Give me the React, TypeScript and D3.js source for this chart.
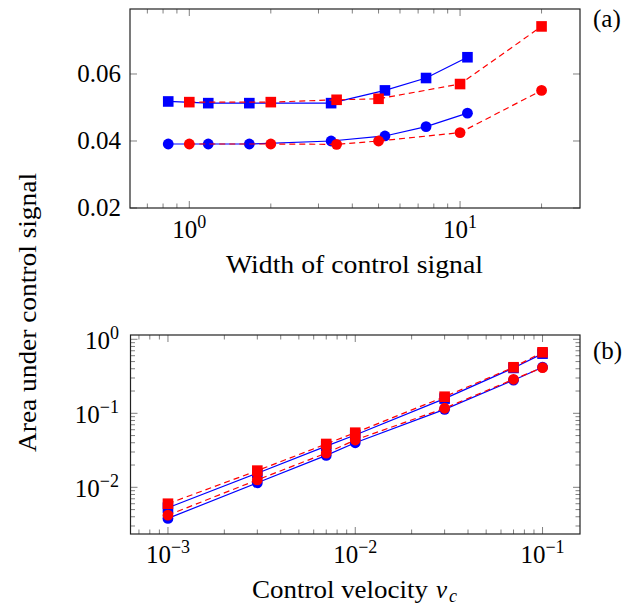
import React from "react";
import * as d3 from "d3";

// ---------- data ----------
const topBlueX = [0.836, 1.175, 1.666, 3.34, 5.28, 7.49, 10.65];
const topBlueSquares = [0.0518, 0.0513, 0.0513, 0.0513, 0.0551, 0.0588, 0.065];
const topBlueCircles = [0.0391, 0.0391, 0.0391, 0.04, 0.0415, 0.0443, 0.0483];
const topRedX = [1, 2, 3.5, 5, 10, 20];
const topRedSquares = [0.0516, 0.0516, 0.0523, 0.0526, 0.057, 0.0742];
const topRedCircles = [0.0391, 0.0391, 0.039, 0.04, 0.0425, 0.0551];
const topYTicks = [0.02, 0.04, 0.06];
const topXMajor = [1, 10];

const botX = [0.001, 0.003, 0.007, 0.01, 0.03, 0.07, 0.1];
const botBlueSquares = [0.0053, 0.0155, 0.036, 0.051, 0.158, 0.41, 0.64];
const botBlueCircles = [0.0038, 0.0115, 0.027, 0.04, 0.113, 0.28, 0.42];
const botRedSquares = [0.006, 0.0168, 0.0385, 0.0547, 0.1675, 0.419, 0.667];
const botRedCircles = [0.0042, 0.0126, 0.029, 0.0436, 0.117, 0.288, 0.414];
const botXMajorExp = [-3, -2, -1];
const botYMajorExp = [0, -1, -2];

const BLUE = "#0000ff";
const RED = "#ff0000";
const FONT = "Liberation Serif, Times New Roman, Tinos, DejaVu Serif, Noto Serif, serif";
const FS = 25;
const textStyle: React.CSSProperties = { fontFamily: FONT, fontSize: FS };

function logMinors(lo: number, hi: number) {
  const out: number[] = [];
  for (let e = Math.floor(Math.log10(lo)) - 1; e <= Math.ceil(Math.log10(hi)); e++) {
    for (let m = 2; m <= 9; m++) {
      const v = m * Math.pow(10, e);
      if (v > lo && v < hi) out.push(v);
    }
  }
  return out;
}

function Pow({ x, y, exp, anchor }: { x: number; y: number; exp: string; anchor: "middle" | "end" }) {
  return (
    <text x={x} y={y} style={textStyle} textAnchor={anchor} fill="#000">
      10
      <tspan dy={-10} style={{ fontSize: 18 }}>
        {exp}
      </tspan>
    </text>
  );
}

function Series({
  xs, ys, x, y, color, dashed, shape,
}: {
  xs: number[]; ys: number[]; x: any; y: any; color: string; dashed: boolean; shape: "sq" | "ci";
}) {
  const pts: [number, number][] = xs.map((v, i) => [x(v), y(ys[i])]);
  const line = d3.line()(pts) || "";
  return (
    <g>
      <path d={line} fill="none" stroke={color} strokeWidth={1.2} strokeDasharray={dashed ? "6,4" : undefined} />
      {pts.map(([px, py], i) =>
        shape === "sq" ? (
          <rect key={i} x={px - 5.3} y={py - 5.3} width={10.6} height={10.6} fill={color} />
        ) : (
          <circle key={i} cx={px} cy={py} r={5.4} fill={color} />
        )
      )}
    </g>
  );
}

export default function App() {
  // top panel
  const tL = 130, tR = 580, tT = 9, tB = 208;
  const tx = d3.scaleLog().domain([Math.pow(10, -0.219), Math.pow(10, 1.443)]).range([tL, tR]);
  const ty = d3.scaleLinear().domain([0.02, 0.0794]).range([tB, tT]);
  const txMinor = logMinors(tx.domain()[0], tx.domain()[1]);

  // bottom panel
  const bL = 130.5, bR = 580, bT = 335, bB = 534;
  const bx = d3.scaleLog().domain([Math.pow(10, -3.2), Math.pow(10, -0.8)]).range([bL, bR]);
  const by = d3.scaleLog().domain([Math.pow(10, -2.631), Math.pow(10, 0.058)]).range([bB, bT]);
  const bxMinor = logMinors(bx.domain()[0], bx.domain()[1]);
  const byMinor = logMinors(by.domain()[0], by.domain()[1]);

  const MAJ = 7, MIN = 4.5;
  const tickColor = "#808080";

  return (
    <svg width={624} height={610} style={{ position: "absolute", left: 0, top: 0 }}>
      <rect width={624} height={610} fill="#fff" />

      {/* ---------- top panel ---------- */}
      <g>
        {topXMajor.map((v) => (
          <g key={"tmx" + v} stroke={tickColor} strokeWidth={1}>
            <line x1={tx(v)} x2={tx(v)} y1={tB} y2={tB - MAJ} />
            <line x1={tx(v)} x2={tx(v)} y1={tT} y2={tT + MAJ} />
          </g>
        ))}
        {txMinor.map((v) => (
          <g key={"tmn" + v} stroke={tickColor} strokeWidth={1}>
            <line x1={tx(v)} x2={tx(v)} y1={tB} y2={tB - MIN} />
            <line x1={tx(v)} x2={tx(v)} y1={tT} y2={tT + MIN} />
          </g>
        ))}
        {topYTicks.map((v) => (
          <g key={"ty" + v} stroke={tickColor} strokeWidth={1}>
            <line x1={tL} x2={tL + MAJ} y1={ty(v)} y2={ty(v)} />
            <line x1={tR} x2={tR - MAJ} y1={ty(v)} y2={ty(v)} />
          </g>
        ))}
        {topYTicks.map((v) => (
          <text key={"tyl" + v} x={121} y={ty(v) + 8} style={textStyle} textAnchor="end">
            {v.toFixed(2)}
          </text>
        ))}
        {topXMajor.map((v, i) => (
          <Pow key={"txl" + v} x={tx(v)} y={238} exp={String(i)} anchor="middle" />
        ))}
        <text x={226} y={273} style={textStyle} textLength={257} lengthAdjust="spacingAndGlyphs">
          Width of control signal
        </text>

        <Series xs={topBlueX} ys={topBlueSquares} x={tx} y={ty} color={BLUE} dashed={false} shape="sq" />
        <Series xs={topBlueX} ys={topBlueCircles} x={tx} y={ty} color={BLUE} dashed={false} shape="ci" />
        <Series xs={topRedX} ys={topRedSquares} x={tx} y={ty} color={RED} dashed={true} shape="sq" />
        <Series xs={topRedX} ys={topRedCircles} x={tx} y={ty} color={RED} dashed={true} shape="ci" />

        <rect x={tL} y={tT} width={tR - tL} height={tB - tT} fill="none" stroke="#222" strokeWidth={1.2} />
        <text x={593} y={27} style={textStyle}>(a)</text>
      </g>

      {/* ---------- bottom panel ---------- */}
      <g>
        {botXMajorExp.map((e) => (
          <g key={"bmx" + e} stroke={tickColor} strokeWidth={1}>
            <line x1={bx(Math.pow(10, e))} x2={bx(Math.pow(10, e))} y1={bB} y2={bB - MAJ} />
            <line x1={bx(Math.pow(10, e))} x2={bx(Math.pow(10, e))} y1={bT} y2={bT + MAJ} />
          </g>
        ))}
        {bxMinor.map((v) => (
          <g key={"bmn" + v} stroke={tickColor} strokeWidth={1}>
            <line x1={bx(v)} x2={bx(v)} y1={bB} y2={bB - MIN} />
            <line x1={bx(v)} x2={bx(v)} y1={bT} y2={bT + MIN} />
          </g>
        ))}
        {botYMajorExp.map((e) => (
          <g key={"bmy" + e} stroke={tickColor} strokeWidth={1}>
            <line x1={bL} x2={bL + MAJ} y1={by(Math.pow(10, e))} y2={by(Math.pow(10, e))} />
            <line x1={bR} x2={bR - MAJ} y1={by(Math.pow(10, e))} y2={by(Math.pow(10, e))} />
          </g>
        ))}
        {byMinor.map((v) => (
          <g key={"bmyn" + v} stroke={tickColor} strokeWidth={1}>
            <line x1={bL} x2={bL + MIN} y1={by(v)} y2={by(v)} />
            <line x1={bR} x2={bR - MIN} y1={by(v)} y2={by(v)} />
          </g>
        ))}
        {botYMajorExp.map((e) => (
          <Pow key={"byl" + e} x={119} y={by(Math.pow(10, e)) + 10} exp={e === 0 ? "0" : "\u2212" + Math.abs(e)} anchor="end" />
        ))}
        {botXMajorExp.map((e) => (
          <Pow key={"bxl" + e} x={bx(Math.pow(10, e))} y={563} exp={"\u2212" + Math.abs(e)} anchor="middle" />
        ))}
        <text x={252} y={598} style={textStyle} textLength={176} lengthAdjust="spacingAndGlyphs">
          Control velocity
        </text>
        <text x={436} y={598} style={{ ...textStyle, fontStyle: "italic" }}>v</text>
        <text x={449} y={602} style={{ ...textStyle, fontSize: 18, fontStyle: "italic" }}>c</text>

        <Series xs={botX} ys={botBlueSquares} x={bx} y={by} color={BLUE} dashed={false} shape="sq" />
        <Series xs={botX} ys={botBlueCircles} x={bx} y={by} color={BLUE} dashed={false} shape="ci" />
        <Series xs={botX} ys={botRedSquares} x={bx} y={by} color={RED} dashed={true} shape="sq" />
        <Series xs={botX} ys={botRedCircles} x={bx} y={by} color={RED} dashed={true} shape="ci" />

        <rect x={bL} y={bT} width={bR - bL} height={bB - bT} fill="none" stroke="#222" strokeWidth={1.2} />
        <text x={593} y={359} style={textStyle}>(b)</text>
      </g>

      {/* shared y label */}
      <text
        transform={`translate(36, 452) rotate(-90)`}
        style={textStyle}
        textLength={279}
        lengthAdjust="spacingAndGlyphs"
      >
        Area under control signal
      </text>
    </svg>
  );
}
